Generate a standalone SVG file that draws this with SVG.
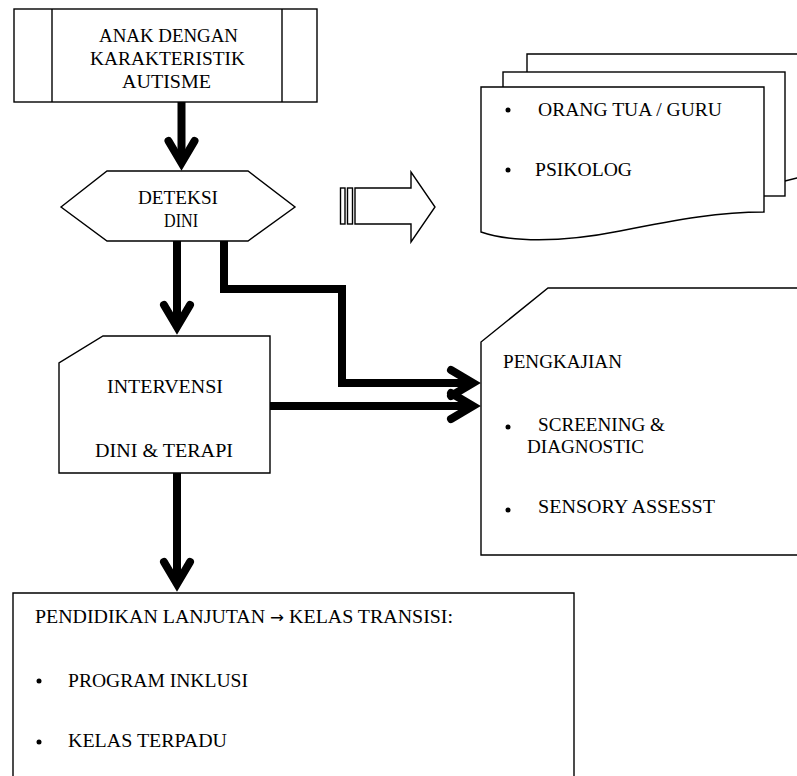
<svg xmlns="http://www.w3.org/2000/svg" width="797" height="776" viewBox="0 0 797 776">
<style>
.shape{fill:#fff;stroke:#000;stroke-width:1.4}
.t{font-family:"Liberation Serif","Times New Roman",serif;font-size:19px;fill:#000}
.conn{fill:none;stroke:#000;stroke-width:8;stroke-linejoin:miter}
.dot{fill:#000}
</style>
<defs>
<marker id="arr" markerUnits="userSpaceOnUse" viewBox="-40 -22 60 44" markerWidth="60" markerHeight="44" refX="0" refY="0" orient="auto">
<path d="M-19,-13 L3,0 L-19,13" fill="none" stroke="#000" stroke-width="8" stroke-linejoin="miter" stroke-linecap="round"/>
</marker>
</defs>
<rect width="797" height="776" fill="#fff"/>

<g id="node-anak">
<rect class="shape" x="14" y="9" width="303" height="93"/>
<line class="shape" x1="52" y1="9" x2="52" y2="102"/>
<line class="shape" x1="282" y1="9" x2="282" y2="102"/>
<text class="t" x="99" y="42" textLength="139" lengthAdjust="spacingAndGlyphs">ANAK DENGAN</text>
<text class="t" x="90" y="65" textLength="155" lengthAdjust="spacingAndGlyphs">KARAKTERISTIK</text>
<text class="t" x="122" y="88" textLength="89" lengthAdjust="spacingAndGlyphs">AUTISME</text>
</g>

<g id="node-deteksi">
<polygon class="shape" points="61,207 107,171 248,171 295,207 248,241 107,241"/>
<text class="t" x="138" y="204" textLength="80" lengthAdjust="spacingAndGlyphs">DETEKSI</text>
<text class="t" x="164" y="227" textLength="34" lengthAdjust="spacingAndGlyphs">DINI</text>
</g>

<g id="block-arrow">
<rect class="shape" x="340.5" y="188" width="4.5" height="36"/>
<rect class="shape" x="347.5" y="188" width="5" height="36"/>
<polygon class="shape" points="355,188 411,188 411,172 435,207 411,242 411,224 355,224"/>
</g>

<g id="node-dokumen">
<path class="shape" d="M527,181 V54 H830 V170 L797,178 L785,181 Z"/>
<rect class="shape" x="503" y="72" width="282" height="124"/>
<path class="shape" d="M481,87 H764 V212 C720,212 680,219 620,231 C560,243 510,242 481,232 Z"/>
<circle class="dot" cx="508" cy="110" r="2.5"/>
<text class="t" x="538" y="116" textLength="184" lengthAdjust="spacingAndGlyphs">ORANG TUA / GURU</text>
<circle class="dot" cx="508" cy="170" r="2.5"/>
<text class="t" x="535" y="176" textLength="97" lengthAdjust="spacingAndGlyphs">PSIKOLOG</text>
</g>

<g id="node-intervensi">
<path class="shape" d="M103,336 H270 V473 H59 V363 Z"/>
<text class="t" x="107" y="393" textLength="116" lengthAdjust="spacingAndGlyphs">INTERVENSI</text>
<text class="t" x="95" y="457" textLength="138" lengthAdjust="spacingAndGlyphs">DINI &amp; TERAPI</text>
</g>

<g id="node-pengkajian">
<path class="shape" d="M830,288 H548 L481,342 V555 H830"/>
<text class="t" x="503" y="368" textLength="119" lengthAdjust="spacingAndGlyphs">PENGKAJIAN</text>
<circle class="dot" cx="508" cy="427" r="2.5"/>
<text class="t" x="538" y="431" textLength="127" lengthAdjust="spacingAndGlyphs">SCREENING &amp;</text>
<text class="t" x="527" y="453" textLength="117" lengthAdjust="spacingAndGlyphs">DIAGNOSTIC</text>
<circle class="dot" cx="508" cy="510" r="2.5"/>
<text class="t" x="538" y="513" textLength="177" lengthAdjust="spacingAndGlyphs">SENSORY ASSESST</text>
</g>

<g id="node-pendidikan">
<path class="shape" d="M13,790 V593 H574 V790"/>
<text class="t" x="35" y="623" textLength="418" lengthAdjust="spacingAndGlyphs">PENDIDIKAN LANJUTAN <tspan font-family="DejaVu Sans" font-size="16">→</tspan> KELAS TRANSISI:</text>
<circle class="dot" cx="39" cy="681" r="2.5"/>
<text class="t" x="68" y="687" textLength="180" lengthAdjust="spacingAndGlyphs">PROGRAM INKLUSI</text>
<circle class="dot" cx="39" cy="742" r="2.5"/>
<text class="t" x="68" y="747" textLength="159" lengthAdjust="spacingAndGlyphs">KELAS TERPADU</text>
</g>

<g id="connectors">
<path class="conn" d="M181.5,102 V160" marker-end="url(#arr)"/>
<path class="conn" d="M177,241 V324" marker-end="url(#arr)"/>
<path class="conn" d="M177,473 V581" marker-end="url(#arr)"/>
<path class="conn" d="M224,241 V289 H342 V383 H470" marker-end="url(#arr)"/>
<path class="conn" d="M270,406 H470" marker-end="url(#arr)"/>
</g>
</svg>
